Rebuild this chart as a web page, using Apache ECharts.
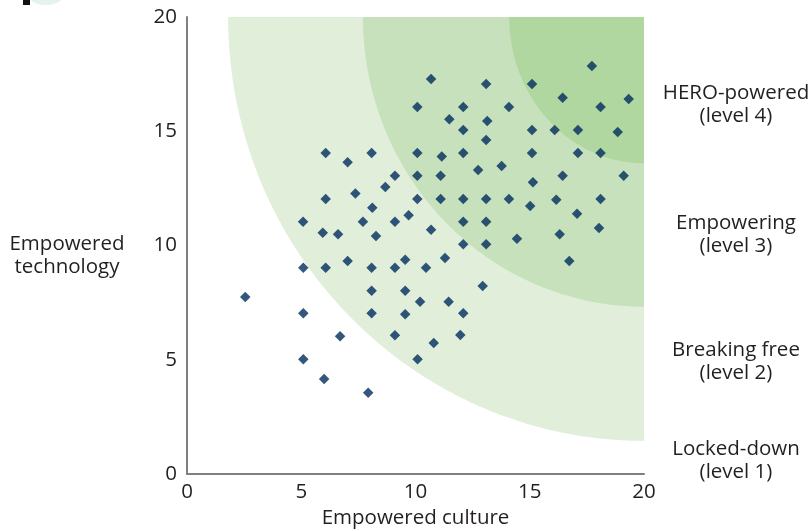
<!DOCTYPE html>
<html><head><meta charset="utf-8">
<script src="https://cdn.jsdelivr.net/npm/echarts@6/dist/echarts.min.js"></script>
<style>html,body{margin:0;padding:0;background:#fff}#chart{width:812px;height:531px}</style>
</head><body><div id="chart"></div>
<script>
// ---- data ----
const culture = [10.68,13.09,10.08,12.09,11.48,13.14,12.09,13.09,6.07,8.08,10.08,12.09,11.15,7.03,12.74,13.77,9.10,10.08,11.10,8.68,7.37,6.07,10.08,11.10,12.09,13.09,8.11,9.70,5.08,7.70,9.10,12.09,13.09,5.94,6.61,8.27,10.68,12.09,13.09,17.72,15.10,16.44,19.33,14.09,18.10,15.10,16.09,17.11,18.85,15.10,17.11,18.10,15.14,16.44,19.11,14.09,15.02,16.16,18.10,17.07,14.44,16.31,18.03,9.55,10.46,11.29,16.73,9.55,10.20,11.45,12.94,9.55,12.09,11.96,10.80,10.09,5.09,6.07,7.03,8.08,9.10,2.55,8.08,5.09,8.08,6.70,9.10,5.09,6.00,7.93];
const technology = [17.29,17.07,16.06,16.06,15.52,15.45,15.05,14.62,14.05,14.05,14.05,14.05,13.89,13.64,13.30,13.48,13.05,13.05,13.05,12.56,12.28,12.04,12.04,12.04,12.04,12.04,11.65,11.32,11.04,11.04,11.04,11.04,11.04,10.56,10.49,10.42,10.69,10.05,10.05,17.86,17.07,16.47,16.41,16.06,16.06,15.05,15.05,15.05,14.97,14.05,14.05,14.05,12.77,13.05,13.05,12.04,11.73,12.00,12.04,11.39,10.30,10.49,10.77,9.38,9.03,9.45,9.32,8.02,7.54,7.54,8.23,6.99,7.03,6.08,5.73,5.02,9.03,9.03,9.32,9.03,9.03,7.75,8.02,7.03,7.03,6.03,6.07,5.02,4.16,3.56];
// zone boundaries: radii (in axis units) measured from the top-right corner (20,20)
const zoneRadiusX = [18.2, 12.3, 5.9];
const zoneRadiusY = [18.55, 12.68, 6.4];
const xTickLabels = ['0','5','10','15','20'];
const yTickLabels = ['0','5','10','15','20'];
const levelNames = ['HERO-powered','Empowering','Breaking free','Locked-down'];
const levelSubs = ['(level 4)','(level 3)','(level 2)','(level 1)'];
const xAxisTitle = 'Empowered culture';
const yAxisTitle = ['Empowered','technology'];

// ---- styles ----
const zoneColors = ['#e0eeda','#c7e1bd','#b0d7a0'];
const FONT = '"Open Sans", sans-serif';
const FS = 20.5;
const TXT = '#231f20';

const chart = echarts.init(document.getElementById('chart'), null, {renderer:'canvas'});
const points = culture.map((x,i)=>[x, technology[i]]);
const zones = zoneRadiusX.map((rx,i)=>[rx, zoneRadiusY[i]]);
const levelY = [105, 235, 362, 461];

chart.setOption({
  animation:false,
  grid:{left:187, right:168, top:17, bottom:57, containLabel:false, outerBoundsMode:'none'},
  xAxis:{type:'value', min:0, max:20, interval:5,
    axisLine:{show:true, onZero:false, lineStyle:{color:'#808080', width:2}},
    axisTick:{show:false}, splitLine:{show:false},
    axisLabel:{margin:8, color:TXT, fontFamily:FONT, fontSize:FS,
      formatter:(v)=>xTickLabels[Math.round(v/5)]},
    name:xAxisTitle, nameLocation:'middle', nameGap:33,
    nameTextStyle:{color:TXT, fontFamily:FONT, fontSize:FS}},
  yAxis:{type:'value', min:0, max:20, interval:5,
    axisLine:{show:true, onZero:false, lineStyle:{color:'#808080', width:2}},
    axisTick:{show:false}, splitLine:{show:false},
    axisLabel:{margin:10, color:TXT, fontFamily:FONT, fontSize:FS,
      formatter:(v)=>yTickLabels[Math.round(v/5)]}},
  graphic:[
    {type:'rect', shape:{x:23, y:0, width:7, height:5}, style:{fill:'#111'}},
    {type:'ellipse', shape:{cx:46, cy:-4, rx:17, ry:9}, style:{fill:'#e6f2ec'}},
    {type:'text', x:67, y:256, style:{text:yAxisTitle.join('\n'), fill:TXT, font:FS+'px '+FONT, align:'center', verticalAlign:'middle', lineHeight:23}}
  ].concat(levelNames.map((n,i)=>({type:'text', x:736, y:levelY[i],
      style:{text:n+'\n'+levelSubs[i], fill:TXT, font:FS+'px '+FONT, align:'center', verticalAlign:'middle', lineHeight:23}}))),
  series:[
    {type:'custom', silent:true, z:1, clip:false, data:zones,
      renderItem:function(params, api){
        const c = api.coord([20,20]);
        const s = api.size([api.value(0), api.value(1)]);
        const pts = [[c[0], c[1]]];
        const n = 120;
        for (let k=0;k<=n;k++){
          const t = k/n*Math.PI/2;
          pts.push([c[0]-s[0]*Math.cos(t), c[1]+s[1]*Math.sin(t)]);
        }
        return {type:'polygon', shape:{points:pts}, style:{fill:zoneColors[params.dataIndex]}};
      }},
    {type:'scatter', z:3, symbol:'diamond', symbolSize:10.5, data:points,
      itemStyle:{color:'#002d5c'}}
  ]
});
</script></body></html>
